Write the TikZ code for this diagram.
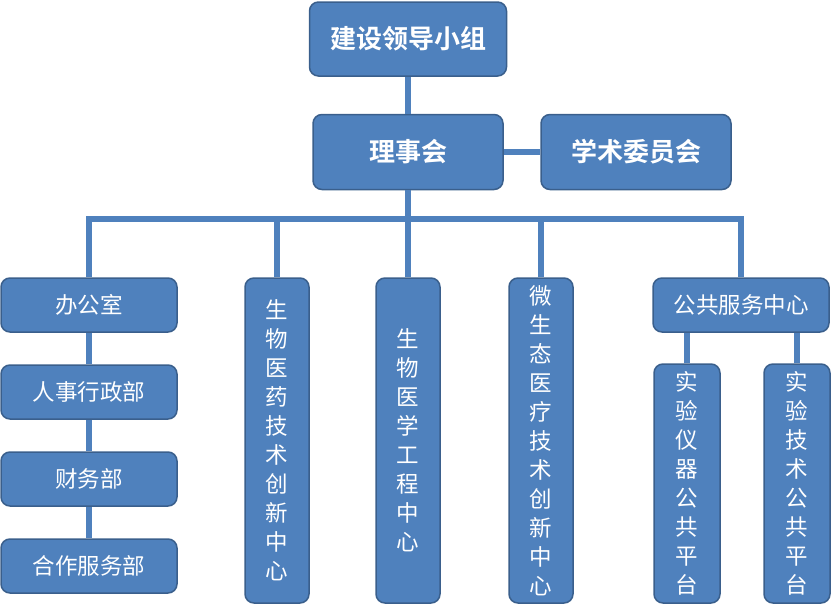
\documentclass[tikz,border=0pt]{standalone}
\usepackage{fontspec}
\setmainfont{Noto Sans CJK SC}[BoldFont={Noto Sans CJK SC Bold}]
\usepackage{tikz}
\usetikzlibrary{positioning, calc}
\definecolor{boxblue}{HTML}{4F81BD}
\definecolor{boxedge}{HTML}{3A5F8C}
\tikzstyle{box} = [rectangle, draw=boxedge, line width=1.5pt, fill=boxblue, text=white, rounded corners=9pt, inner sep=0pt]
\tikzstyle{headbox} = [box, minimum width=197pt, minimum height=74pt, font=\fontsize{26}{30}\selectfont\bfseries]
\tikzstyle{deptbox} = [box, minimum width=176pt, minimum height=54pt, font=\fontsize{22.5}{29}\selectfont]
\tikzstyle{tallbox} = [box, minimum width=64pt, align=center, font=\fontsize{22.5}{29}\selectfont]
\tikzstyle{link} = [line width=6pt, draw=boxblue]

\begin{document}
\begin{tikzpicture}[x=1pt, y=-1pt]
    \useasboundingbox (0,0) rectangle (831,605);
    % top levels
    \node (group) [headbox] at (408,39) {建设领导小组};
    \node (board) [headbox, minimum width=190pt, minimum height=75pt] at (408,152) {理事会};
    \node (academic) [headbox, minimum width=190pt, minimum height=75pt] at (636,152) {学术委员会};
    \coordinate (bus) at (408,219);

    % left column
    \node (office) [deptbox] at (89,305) {办公室};
    \node (hr) [deptbox] at (89,392) {人事行政部};
    \node (finance) [deptbox] at (89,479) {财务部};
    \node (coop) [deptbox] at (89,566) {合作服务部};

    % centres
    \node (pharma) [tallbox, minimum height=325pt] at (277,440.5) {生\\物\\医\\药\\技\\术\\创\\新\\中\\心};
    \node (bme) [tallbox, minimum height=325pt] at (408,440.5) {生\\物\\医\\学\\工\\程\\中\\心};
    \node (micro) [tallbox, minimum height=325pt] at (541,440.5) {微\\生\\态\\医\\疗\\技\\术\\创\\新\\中\\心};
    \node (service) [deptbox] at (741,305) {公共服务中心};
    \node (instr) [tallbox, minimum width=66pt, minimum height=239pt] at (687,483.5) {实\\验\\仪\\器\\公\\共\\平\\台};
    \node (tech) [tallbox, minimum width=66pt, minimum height=239pt] at (797,483.5) {实\\验\\技\\术\\公\\共\\平\\台};

    \draw[link] (group) -- (board);
    \draw[link] (board) -- (academic);
    \draw[link] (board) -- (bus);
    \draw[link] (office.north) |- (service.north |- bus) -- (service.north);
    \foreach \c in {pharma, bme, micro}
        \draw[link] (\c.north) -- (\c.north |- bus);
    \draw[link] (office) -- (hr);
    \draw[link] (hr) -- (finance);
    \draw[link] (finance) -- (coop);
    \draw[link] (instr.north) -- (instr.north |- service.south);
    \draw[link] (tech.north) -- (tech.north |- service.south);
\end{tikzpicture}
\end{document}
